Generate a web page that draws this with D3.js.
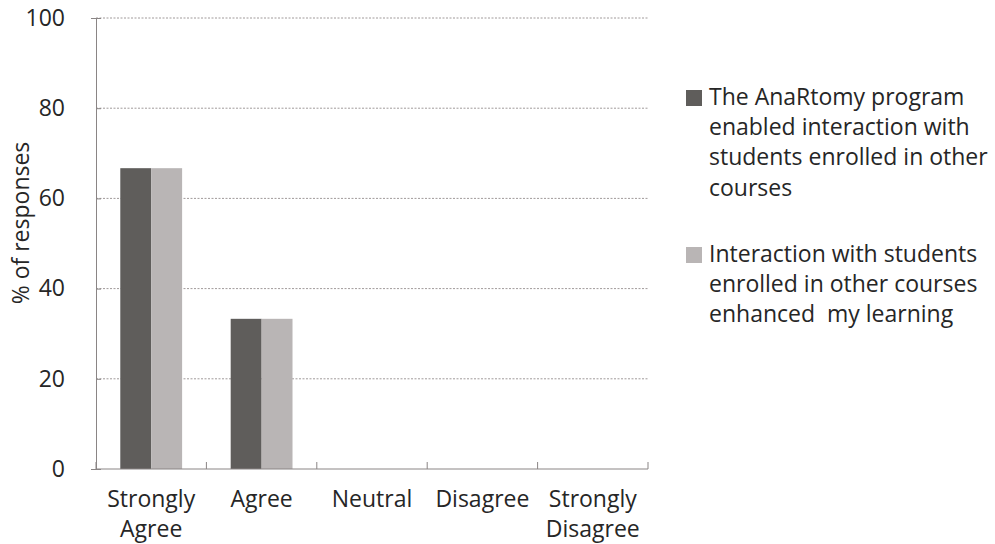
<!DOCTYPE html>
<html><head><meta charset="utf-8">
<script src="https://cdn.jsdelivr.net/npm/d3@7"></script>
<style>body{margin:0;background:#fff}svg{display:block}text{font-family:"Open Sans",sans-serif;fill:#262626}</style>
</head><body><svg id="c" width="995" height="544"></svg>
<script>
const categories = [["Strongly","Agree"],["Agree"],["Neutral"],["Disagree"],["Strongly","Disagree"]];
const seriesNames = [
  ["The AnaRtomy program","enabled interaction with","students enrolled in other","courses"],
  ["Interaction with students","enrolled in other courses","enhanced  my learning"]
];
const series1 = [66.7, 33.3, 0, 0, 0];
const series2 = [66.7, 33.3, 0, 0, 0];
const yTicks = [0,20,40,60,80,100];
const colors = ["#5f5d5b","#b9b5b5"];

const svg = d3.select("#c");
const L=96, R=648, T=18, B=469;
const FS = 23;
const x = d3.scaleBand().domain(d3.range(categories.length)).range([L,R]).paddingInner(0.44).paddingOuter(0.22);
const y = d3.scaleLinear().domain([0,100]).range([B,T]);
const xs = d3.scaleBand().domain([0,1]).range([0,x.bandwidth()]);

// gridlines
svg.append("g").selectAll("line").data(yTicks.filter(d=>d>0)).join("line")
  .attr("x1",L).attr("x2",R).attr("y1",d=>y(d)).attr("y2",d=>y(d))
  .attr("stroke","#a09a9a").attr("stroke-width",1).attr("stroke-dasharray","2,1.5");

// bars
const data = [series1, series2];
data.forEach((s,si)=>{
  svg.append("g").selectAll("rect").data(s).join("rect")
    .attr("x",(d,i)=>x(i)+xs(si)).attr("width",xs.bandwidth())
    .attr("y",d=>y(d)).attr("height",d=>B-y(d)).attr("fill",colors[si]);
});

// y axis
const ya = svg.append("g").attr("transform",`translate(${L},0)`)
  .call(d3.axisLeft(y).tickValues(yTicks).tickSize(5).tickPadding(26));
ya.select(".domain").attr("stroke","#8a8585");
ya.selectAll(".tick line").attr("stroke","#8a8585").attr("transform","translate(5,0)");
ya.selectAll(".tick text").style("font-size",FS+"px").attr("fill","#262626");

// x axis
const step = (R-L)/categories.length;
const xa = svg.append("g").attr("transform",`translate(0,${B})`);
xa.append("line").attr("x1",L).attr("x2",R).attr("stroke","#8a8585");
xa.selectAll(".tk").data(d3.range(categories.length+1)).join("line")
  .attr("x1",i=>L+i*step).attr("x2",i=>L+i*step).attr("y1",0).attr("y2",-7).attr("stroke","#8a8585");
xa.selectAll(".lbl").data(categories).join("text")
  .attr("text-anchor","middle").style("font-size",FS+"px")
  .attr("transform",(d,i)=>`translate(${x(i)+x.bandwidth()/2},0)`)
  .each(function(d){
    d3.select(this).selectAll("tspan").data(d).join("tspan")
      .attr("x",0).attr("y",(t,j)=>38+j*30).text(t=>t);
  });

// y title
svg.append("text").attr("transform","translate(29,223) rotate(-90)")
  .attr("text-anchor","middle").style("font-size",FS+"px").text("% of responses");

// legend
const legY = [90, 247];
seriesNames.forEach((lines,si)=>{
  const g = svg.append("g").attr("transform",`translate(686,${legY[si]})`);
  g.append("rect").attr("width",16).attr("height",16).attr("fill",colors[si]);
  g.append("text").style("font-size",FS+"px").style("white-space","pre").selectAll("tspan").data(lines).join("tspan")
    .attr("x",23).attr("y",(t,j)=>15+j*30.2).text(t=>t);
});
</script></body></html>
